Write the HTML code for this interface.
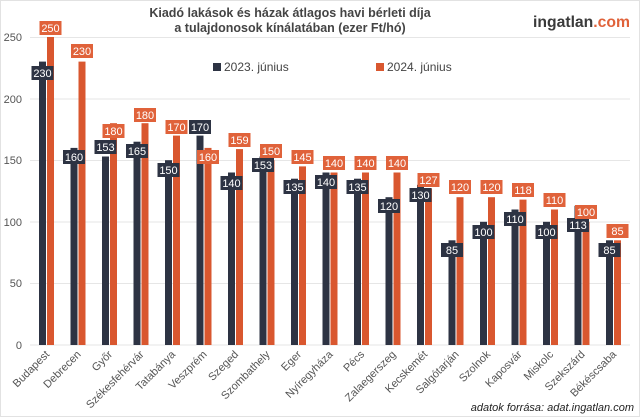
<!DOCTYPE html>
<html><head><meta charset="utf-8"><style>
body{margin:0;background:#fff}
svg{display:block;font-family:"Liberation Sans",Arial,sans-serif}
</style></head><body>
<svg width="640" height="417" viewBox="0 0 640 417">
<rect x="0.5" y="0.5" width="639" height="416" fill="#fff" stroke="#e2e2e2"/>
<text x="290" y="17" text-anchor="middle" font-size="12.5" font-weight="bold" fill="#444">Kiadó lakások és házak átlagos havi bérleti díja</text>
<text x="290" y="32" text-anchor="middle" font-size="12.5" font-weight="bold" fill="#444">a tulajdonosok kínálatában (ezer Ft/hó)</text>
<text x="533" y="27" font-size="16" font-weight="bold" fill="#3a3a3a" textLength="97" lengthAdjust="spacingAndGlyphs">ingatlan<tspan fill="#e0623a">.com</tspan></text>
<g stroke="#e6e6e6" stroke-width="1">
<line x1="30" x2="630" y1="37.5" y2="37.5"/><line x1="30" x2="630" y1="99" y2="99"/><line x1="30" x2="630" y1="160.5" y2="160.5"/><line x1="30" x2="630" y1="222" y2="222"/><line x1="30" x2="630" y1="283.5" y2="283.5"/><line x1="30" x2="630" y1="345" y2="345"/>
</g>
<g font-size="11" fill="#555" text-anchor="end">
<text x="22" y="41">250</text><text x="22" y="103">200</text><text x="22" y="164">150</text><text x="22" y="226">100</text><text x="22" y="287">50</text><text x="22" y="349">0</text>
</g>
<rect x="213" y="63" width="8" height="8" fill="#2d3343"/><text x="224" y="71" font-size="12" fill="#444">2023. június</text>
<rect x="376" y="63" width="8" height="8" fill="#d9572f"/><text x="387" y="71" font-size="12" fill="#444">2024. június</text>
<g fill="#2d3343">
<rect x="39" y="61.6" width="7" height="283.4"/><rect x="70.5" y="147.9" width="7" height="197.1"/><rect x="102" y="156.5" width="7" height="188.5"/><rect x="133.5" y="141.7" width="7" height="203.3"/><rect x="165" y="160.2" width="7" height="184.8"/><rect x="196.5" y="135.6" width="7" height="209.4"/><rect x="228" y="172.5" width="7" height="172.5"/><rect x="259.5" y="156.5" width="7" height="188.5"/><rect x="291" y="178.7" width="7" height="166.3"/><rect x="322.5" y="172.5" width="7" height="172.5"/><rect x="354" y="178.7" width="7" height="166.3"/><rect x="385.5" y="197.2" width="7" height="147.8"/><rect x="417" y="184.8" width="7" height="160.2"/><rect x="448.5" y="240.3" width="7" height="104.7"/><rect x="480" y="221.8" width="7" height="123.2"/><rect x="511.5" y="209.5" width="7" height="135.5"/><rect x="543" y="221.8" width="7" height="123.2"/><rect x="574.5" y="205.8" width="7" height="139.2"/><rect x="606" y="240.3" width="7" height="104.7"/>
</g>
<g fill="#d9572f">
<rect x="47" y="37" width="7" height="308"/><rect x="78.5" y="61.6" width="7" height="283.4"/><rect x="110" y="123.2" width="7" height="221.8"/><rect x="141.5" y="123.2" width="7" height="221.8"/><rect x="173" y="135.6" width="7" height="209.4"/><rect x="204.5" y="147.9" width="7" height="197.1"/><rect x="236" y="149.1" width="7" height="195.9"/><rect x="267.5" y="160.2" width="7" height="184.8"/><rect x="299" y="166.4" width="7" height="178.6"/><rect x="330.5" y="172.5" width="7" height="172.5"/><rect x="362" y="172.5" width="7" height="172.5"/><rect x="393.5" y="172.5" width="7" height="172.5"/><rect x="425" y="188.5" width="7" height="156.5"/><rect x="456.5" y="197.2" width="7" height="147.8"/><rect x="488" y="197.2" width="7" height="147.8"/><rect x="519.5" y="199.6" width="7" height="145.4"/><rect x="551" y="209.5" width="7" height="135.5"/><rect x="582.5" y="221.8" width="7" height="123.2"/><rect x="614" y="240.3" width="7" height="104.7"/>
</g>
<g fill="#2d3343">
<rect x="31.5" y="66" width="22" height="14"/><rect x="63" y="150" width="22" height="14"/><rect x="94.5" y="140" width="22" height="14"/><rect x="126" y="144" width="22" height="14"/><rect x="157.5" y="163" width="22" height="14"/><rect x="189" y="120" width="22" height="14"/><rect x="220.5" y="176" width="22" height="14"/><rect x="252" y="158" width="22" height="14"/><rect x="283.5" y="180" width="22" height="14"/><rect x="315" y="175" width="22" height="14"/><rect x="346.5" y="180" width="22" height="14"/><rect x="378" y="199" width="22" height="14"/><rect x="409.5" y="188" width="22" height="14"/><rect x="441" y="243" width="22" height="14"/><rect x="472.5" y="225" width="22" height="14"/><rect x="504" y="212" width="22" height="14"/><rect x="535.5" y="225" width="22" height="14"/><rect x="567" y="218" width="22" height="14"/><rect x="598.5" y="243" width="22" height="14"/>
</g>
<g fill="#e0623a">
<rect x="39.5" y="21" width="22" height="14"/><rect x="71" y="44" width="22" height="14"/><rect x="102.5" y="124" width="22" height="14"/><rect x="134" y="108" width="22" height="14"/><rect x="165.5" y="120" width="22" height="14"/><rect x="197" y="150" width="22" height="14"/><rect x="228.5" y="133" width="22" height="14"/><rect x="260" y="144" width="22" height="14"/><rect x="291.5" y="150" width="22" height="14"/><rect x="323" y="156" width="22" height="14"/><rect x="354.5" y="156" width="22" height="14"/><rect x="386" y="156" width="22" height="14"/><rect x="417.5" y="173" width="22" height="14"/><rect x="449" y="180" width="22" height="14"/><rect x="480.5" y="180" width="22" height="14"/><rect x="512" y="183" width="22" height="14"/><rect x="543.5" y="193" width="22" height="14"/><rect x="575" y="205" width="22" height="14"/><rect x="606.5" y="224" width="22" height="14"/>
</g>
<g font-size="11" fill="#fff" text-anchor="middle">
<text x="42.5" y="77">230</text><text x="74" y="161">160</text><text x="105.5" y="151">153</text><text x="137" y="155">165</text><text x="168.5" y="174">150</text><text x="200" y="131">170</text><text x="231.5" y="187">140</text><text x="263" y="169">153</text><text x="294.5" y="191">135</text><text x="326" y="186">140</text><text x="357.5" y="191">135</text><text x="389" y="210">120</text><text x="420.5" y="199">130</text><text x="452" y="254">85</text><text x="483.5" y="236">100</text><text x="515" y="223">110</text><text x="546.5" y="236">100</text><text x="578" y="229">113</text><text x="609.5" y="254">85</text>
<text x="50.5" y="32">250</text><text x="82" y="55">230</text><text x="113.5" y="135">180</text><text x="145" y="119">180</text><text x="176.5" y="131">170</text><text x="208" y="161">160</text><text x="239.5" y="144">159</text><text x="271" y="155">150</text><text x="302.5" y="161">145</text><text x="334" y="167">140</text><text x="365.5" y="167">140</text><text x="397" y="167">140</text><text x="428.5" y="184">127</text><text x="460" y="191">120</text><text x="491.5" y="191">120</text><text x="523" y="194">118</text><text x="554.5" y="204">110</text><text x="586" y="216">100</text><text x="617.5" y="235">85</text>
</g>
<g font-size="11" fill="#555" text-anchor="end">
<text transform="translate(50,355) rotate(-45)">Budapest</text>
<text transform="translate(81.5,355) rotate(-45)">Debrecen</text>
<text transform="translate(113,355) rotate(-45)">Győr</text>
<text transform="translate(144.5,355) rotate(-45)">Székesfehérvár</text>
<text transform="translate(176,355) rotate(-45)">Tatabánya</text>
<text transform="translate(207.5,355) rotate(-45)">Veszprém</text>
<text transform="translate(239,355) rotate(-45)">Szeged</text>
<text transform="translate(270.5,355) rotate(-45)">Szombathely</text>
<text transform="translate(302,355) rotate(-45)">Eger</text>
<text transform="translate(333.5,355) rotate(-45)">Nyíregyháza</text>
<text transform="translate(365,355) rotate(-45)">Pécs</text>
<text transform="translate(396.5,355) rotate(-45)">Zalaegerszeg</text>
<text transform="translate(428,355) rotate(-45)">Kecskemét</text>
<text transform="translate(459.5,355) rotate(-45)">Salgótarján</text>
<text transform="translate(491,355) rotate(-45)">Szolnok</text>
<text transform="translate(522.5,355) rotate(-45)">Kaposvár</text>
<text transform="translate(554,355) rotate(-45)">Miskolc</text>
<text transform="translate(585.5,355) rotate(-45)">Szekszárd</text>
<text transform="translate(617,355) rotate(-45)">Békéscsaba</text>
</g>
<text x="634" y="411" text-anchor="end" font-size="11" font-style="italic" fill="#222">adatok forrása: adat.ingatlan.com</text>
</svg>
</body></html>
